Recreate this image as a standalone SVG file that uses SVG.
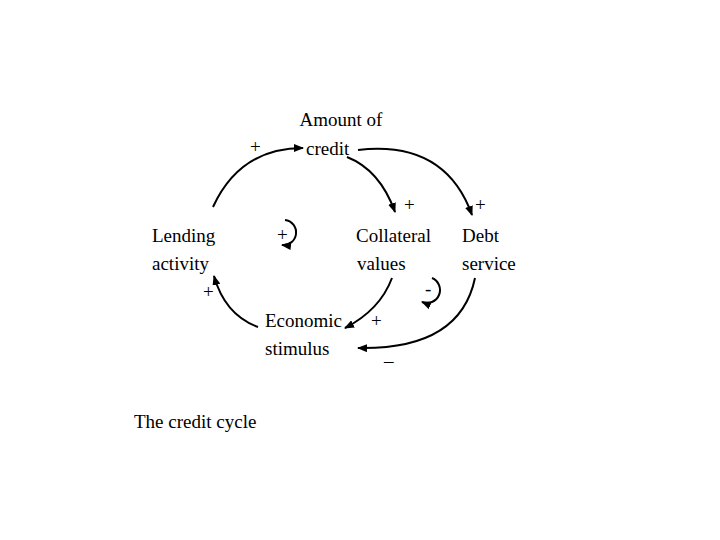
<svg xmlns="http://www.w3.org/2000/svg" width="720" height="540" viewBox="0 0 720 540">
<style>
text{font-family:"Liberation Serif",serif;font-size:19px;fill:#000}
.c{fill:none;stroke:#000;stroke-width:2}
</style>
<defs><marker id="a" markerWidth="10" markerHeight="8" refX="9" refY="4" orient="auto" markerUnits="userSpaceOnUse"><path d="M0,0L10,4L0,8z"/></marker></defs>
<rect width="720" height="540" fill="#fff"/>
<g id="credit"><text x="341" y="126" text-anchor="middle">Amount of</text><text x="306" y="155">credit</text></g>
<g id="lending"><text x="152" y="242">Lending</text><text x="152" y="270">activity</text></g>
<g id="collateral"><text x="356" y="242">Collateral</text><text x="357" y="270">values</text></g>
<g id="debt"><text x="462" y="242">Debt</text><text x="462" y="270">service</text></g>
<g id="economic"><text x="265" y="327">Economic</text><text x="265" y="355">stimulus</text></g>
<g id="title"><text x="134" y="428" font-size="22">The credit cycle</text></g>
<g id="connectors">
<path class="c" marker-end="url(#a)" d="M213,207Q240,148 303,148"/>
<path class="c" marker-end="url(#a)" d="M347,157Q380,170 395,212"/>
<path class="c" marker-end="url(#a)" d="M358,150Q445,140 472,215"/>
<path class="c" marker-end="url(#a)" d="M392,278Q380,310 345,328"/>
<path class="c" marker-end="url(#a)" d="M475,278Q460,350 358,348"/>
<path class="c" marker-end="url(#a)" d="M258,327Q225,315 214,276"/>
<path class="c" marker-end="url(#a)" d="M285,220A12,12 0 1 1 282,245"/>
<path class="c" marker-end="url(#a)" d="M432,278A12,12 0 1 1 422,302"/>
</g>
<g id="signs">
<text x="250" y="153">+</text><text x="404" y="211">+</text><text x="475" y="211">+</text>
<text x="277" y="241">+</text><text x="203" y="298">+</text><text x="371" y="327">+</text>
<text x="425" y="295">-</text><text x="384" y="361">_</text>
</g>
</svg>
